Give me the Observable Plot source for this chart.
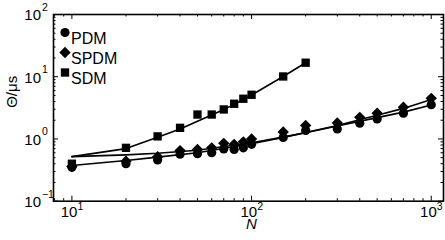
<!DOCTYPE html>
<html><head><meta charset="utf-8">
<script src="https://cdn.jsdelivr.net/npm/d3@7"></script>
<script src="https://cdn.jsdelivr.net/npm/@observablehq/plot@0.6"></script>
<style>html,body{margin:0;padding:0;background:#fff;} #chart svg{display:block;}</style>
</head><body><div id="chart"></div>
<script>
// measured points
const N = [10,20,30,40,50,60,70,80,90,100,150,200,300,400,500,700,1000];
const pdm = [0.35,0.40,0.46,0.57,0.58,0.60,0.69,0.68,0.72,0.82,1.06,1.37,1.45,1.79,2.10,2.59,3.56];
const spdm = [0.36,0.44,0.52,0.65,0.68,0.72,0.85,0.82,0.90,1.0,1.30,1.65,1.81,2.23,2.59,3.23,4.5];
const sdmN = [10,20,30,40,50,60,70,80,90,100,150,200];
const sdm = [0.40,0.72,1.10,1.51,2.47,2.47,2.98,3.68,4.43,5.13,10.1,16.8];
// fitted curves
const fitN = [10,20,30,50,100,150,200,300,500,700,1000];
const pdmFit = [0.375,0.45,0.51,0.60,0.84,1.06,1.26,1.62,2.2,2.7,3.52];
const spdmFit = [0.52,0.555,0.59,0.66,0.87,1.07,1.27,1.65,2.4,3.1,4.3];
const sdmFit = [0.52,0.70,1.07,1.45,1.92,2.42,2.97,3.6,4.3,5.1,10.1,16.8];
// legend
const legendLabels = ["PDM","SPDM","SDM"];
const legendSymbols = ["circle","diamond2","square"];
// ticks
const xMajor = [10,100,1000];
const xExp = ["1","2","3"];
const xMinor = [8,9,20,30,40,50,60,70,80,90,200,300,400,500,600,700,800,900];
const yMajor = [0.1,1,10,100];
const yExp = ["\u22121","0","1","2"];
const yMinor = [0.2,0.3,0.4,0.5,0.6,0.7,0.8,0.9,2,3,4,5,6,7,8,9,20,30,40,50,60,70,80,90];

const W = 445, H = 240;
const mL = 53, mR = 2, mT = 14, mB = 39.3;
const fw = W - mL - mR, fh = H - mT - mB;
const major = 5, minor = 2.5;

const pdmData = N.map((n,i)=>({N:n, v:pdm[i]}));
const spdmData = N.map((n,i)=>({N:n, v:spdm[i]}));
const sdmData = sdmN.map((n,i)=>({N:n, v:sdm[i]}));
const pdmFitData = fitN.map((n,i)=>({N:n, v:pdmFit[i]}));
const spdmFitData = fitN.map((n,i)=>({N:n, v:spdmFit[i]}));
const sdmFitData = sdmN.map((n,i)=>({N:n, v:sdmFit[i]}));

const symR = {circle:4.6, diamond2:5.1, square:4.7};
const lineOpt = {x:"N", y:"v", stroke:"black", strokeWidth:1.6};

const legendMarks = legendLabels.flatMap((lab,i)=>[
  Plot.dot([lab], {frameAnchor:"top-left", dx:11.5, dy:18+20*i, symbol:legendSymbols[i], r:symR[legendSymbols[i]], fill:"black", stroke:"none"}),
  Plot.text([lab], {frameAnchor:"top-left", dx:17.5, dy:18+20*i, text:d=>d, textAnchor:"start", fontSize:16})
]);

const chart = Plot.plot({
  width: W, height: H,
  marginLeft: mL, marginRight: mR, marginTop: mT, marginBottom: mB,
  x: {type:"log", domain:[7.9,1170], axis:null},
  y: {type:"log", domain:[0.1,100], axis:null},
  style: {fontFamily:"'Liberation Sans', Arial, sans-serif", fontSize:"15px", background:"white", color:"black", overflow:"visible"},
  marks: [
    // ticks inside frame on all four sides
    Plot.tickX(xMajor, {x:d=>d, insetTop:fh-major, stroke:"black"}),
    Plot.tickX(xMajor, {x:d=>d, insetBottom:fh-major, stroke:"black"}),
    Plot.tickX(xMinor, {x:d=>d, insetTop:fh-minor, stroke:"black"}),
    Plot.tickX(xMinor, {x:d=>d, insetBottom:fh-minor, stroke:"black"}),
    Plot.tickY(yMajor, {y:d=>d, insetRight:fw-major, stroke:"black"}),
    Plot.tickY(yMajor, {y:d=>d, insetLeft:fw-major, stroke:"black"}),
    Plot.tickY(yMinor, {y:d=>d, insetRight:fw-minor, stroke:"black"}),
    Plot.tickY(yMinor, {y:d=>d, insetLeft:fw-minor, stroke:"black"}),
    // tick labels
    Plot.text(xMajor, {x:d=>d, frameAnchor:"bottom", text:()=>"10", dy:16, dx:-2.85, fontSize:15}),
    Plot.text(xMajor, {x:d=>d, frameAnchor:"bottom", text:(d,i)=>xExp[i], dy:9, dx:5.6, textAnchor:"start", fontSize:10.5}),
    Plot.text(yMajor, {y:d=>d, frameAnchor:"left", text:()=>"10", dx:-12.5, dy:1, textAnchor:"end", fontSize:15}),
    Plot.text(yMajor, {y:d=>d, frameAnchor:"left", text:(d,i)=>yExp[i], dx:-11.6, dy:-7, textAnchor:"start", fontSize:10.5}),
    // axis labels
    Plot.text(["\u0398/\u03bcs"], {frameAnchor:"left", text:d=>d, dx:-41, rotate:-90, fontSize:15}),
    Plot.text(["N"], {frameAnchor:"bottom", text:d=>d, dx:3, dy:28, fontStyle:"italic", fontSize:15}),
    // fitted lines
    Plot.line(pdmFitData, lineOpt),
    Plot.line(spdmFitData, lineOpt),
    Plot.line(sdmFitData, lineOpt),
    // data markers
    Plot.dot(sdmData, {x:"N", y:"v", symbol:"square", r:symR.square, fill:"black", stroke:"none"}),
    Plot.dot(pdmData, {x:"N", y:"v", symbol:"circle", r:symR.circle, fill:"black", stroke:"none"}),
    Plot.dot(spdmData, {x:"N", y:"v", symbol:"diamond2", r:symR.diamond2, fill:"black", stroke:"none"}),
    ...legendMarks,
    Plot.frame({stroke:"black", strokeWidth:1.6})
  ]
});
document.getElementById("chart").appendChild(chart);
</script>
</body></html>
